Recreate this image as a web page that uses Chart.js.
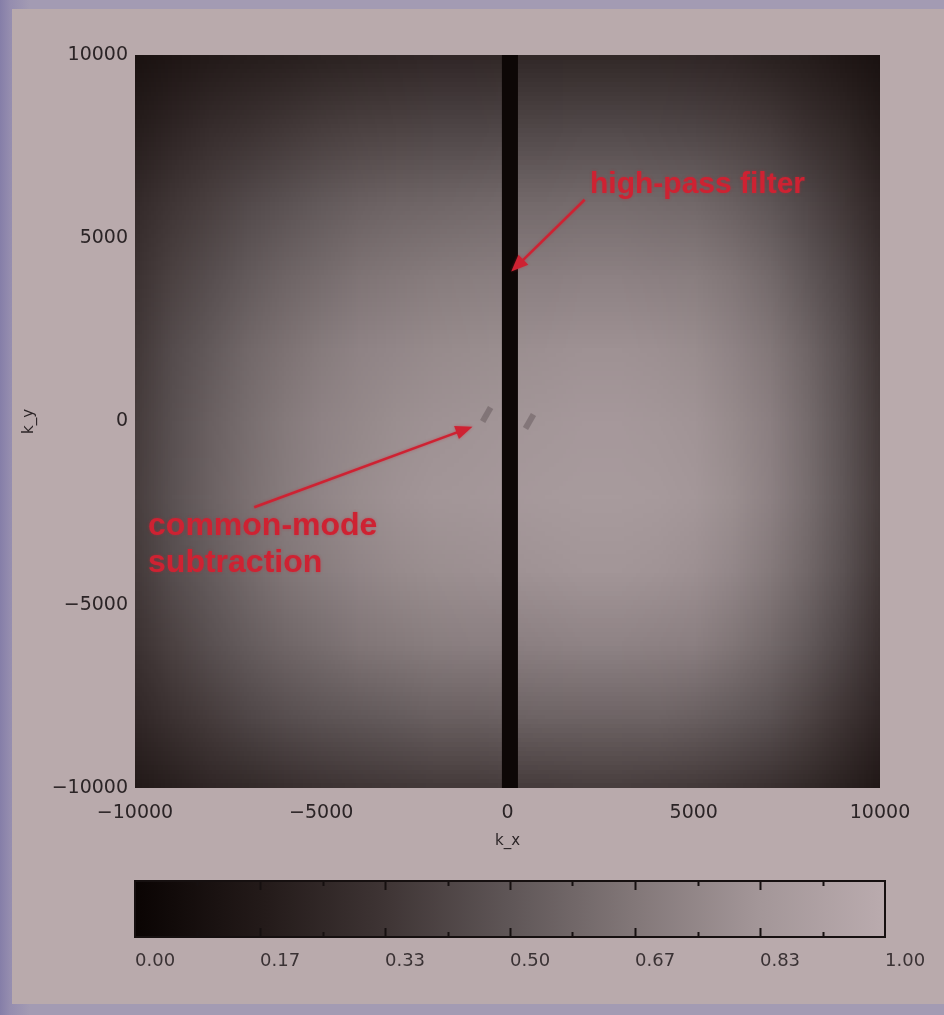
<!DOCTYPE html>
<html>
<head>
<meta charset="utf-8">
<script src="https://cdn.jsdelivr.net/npm/chart.js@4.4.0/dist/chart.umd.min.js"></script>
<style>
  html, body { margin: 0; padding: 0; width: 944px; height: 1015px; overflow: hidden; }
  body { position: relative; background: linear-gradient(to right, #857ea8 0px, #958daf 10px, #a39bb3 30px); }
  #panel { position: absolute; left: 12px; top: 9px; width: 932px; height: 995px; background: #b9aaac; }
  #map { position: absolute; left: 0; top: 0; width: 944px; height: 870px; }
  #cbar { position: absolute; left: 0; top: 860px; width: 944px; height: 120px; }
  canvas { filter: blur(0.7px); }
</style>
</head>
<body>
<div id="panel"></div>
<canvas id="map" width="944" height="870"></canvas>
<canvas id="cbar" width="944" height="120"></canvas>
<script>
// Sample grid of the 2D spectrum (normalised power) on k_x / k_y nodes
const kxNodes = [-10000, -9000, -8000, -7000, -6000, -5000, -4000, -3000, -2000, -1000, 0,
                 1000, 2000, 3000, 4000, 5000, 6000, 7000, 8000, 9000, 10000];
const kyNodes = [10000, 8000, 6000, 4000, 2000, 0, -2000, -4000, -6000, -8000, -10000];
const power = [
  [0.11,0.14,0.17,0.19,0.20,0.22,0.23,0.24,0.25,0.25,0.26,0.26,0.26,0.26,0.26,0.25,0.24,0.21,0.19,0.15,0.11],
  [0.19,0.24,0.29,0.32,0.35,0.38,0.40,0.41,0.42,0.42,0.43,0.43,0.44,0.44,0.43,0.42,0.40,0.37,0.31,0.26,0.18],
  [0.27,0.34,0.39,0.44,0.48,0.52,0.55,0.57,0.58,0.59,0.60,0.60,0.61,0.61,0.60,0.59,0.55,0.50,0.43,0.35,0.25],
  [0.32,0.40,0.46,0.52,0.57,0.61,0.65,0.67,0.69,0.70,0.71,0.71,0.72,0.72,0.71,0.70,0.66,0.60,0.51,0.42,0.30],
  [0.35,0.45,0.52,0.59,0.64,0.69,0.73,0.75,0.77,0.78,0.79,0.80,0.81,0.81,0.80,0.78,0.73,0.67,0.58,0.47,0.33],
  [0.37,0.47,0.55,0.62,0.68,0.73,0.76,0.79,0.81,0.82,0.83,0.84,0.85,0.85,0.84,0.82,0.77,0.71,0.61,0.49,0.35],
  [0.38,0.48,0.56,0.63,0.69,0.74,0.78,0.81,0.83,0.84,0.85,0.86,0.87,0.87,0.86,0.84,0.79,0.72,0.62,0.50,0.36],
  [0.36,0.46,0.53,0.60,0.66,0.70,0.74,0.77,0.79,0.80,0.81,0.82,0.83,0.83,0.82,0.80,0.75,0.68,0.59,0.48,0.34],
  [0.32,0.40,0.47,0.53,0.58,0.62,0.66,0.68,0.70,0.71,0.71,0.72,0.73,0.73,0.72,0.71,0.66,0.60,0.52,0.42,0.30],
  [0.25,0.32,0.37,0.42,0.46,0.49,0.51,0.53,0.55,0.55,0.56,0.57,0.57,0.57,0.57,0.55,0.52,0.48,0.41,0.33,0.24],
  [0.16,0.20,0.24,0.26,0.29,0.31,0.33,0.34,0.35,0.35,0.36,0.36,0.37,0.37,0.36,0.35,0.33,0.30,0.26,0.21,0.15]
];

// High-pass filter notch around k_x = 0
const hpfBand = [-150, 280];
const hpfLevel = 0.02;

// Residual dips left by the common-mode subtraction
const cmDips = [{ x: -560, y: 190 }, { x: 590, y: 0 }];

// Axis ticks
const axisTicks = [-10000, -5000, 0, 5000, 10000];

// Colour scale
const cmapLevels = [0, 0.17, 0.33, 0.5, 0.67, 0.83, 1];
const cmapColors = ['#0a0403', '#231a19', '#3e3434', '#5f5657', '#837879', '#a39698', '#baabae'];
const cbarTickValues = [0, 0.0833, 0.1667, 0.25, 0.3333, 0.4167, 0.5, 0.5833, 0.6667, 0.75, 0.8333, 0.9167, 1];
const cbarLabels = ['0.00', '0.17', '0.33', '0.50', '0.67', '0.83', '1.00'];

// Annotations (anchor / arrow ends in k_x, k_y)
const notes = [
  { lines: ['high-pass filter'], at: { x: 2215, y: 6235 }, size: 30,
    from: { x: 2070, y: 6050 }, to: { x: 100, y: 4090 } },
  { lines: ['common-mode', 'subtraction'], at: { x: -9650, y: -3100 }, size: 32,
    from: { x: -6800, y: -2340 }, to: { x: -940, y: -140 } }
];

const INK = '#2b2426';
const RED = 'rgb(206,34,50)';

function hexToRgb(h) {
  return [parseInt(h.slice(1, 3), 16), parseInt(h.slice(3, 5), 16), parseInt(h.slice(5, 7), 16)];
}
const cmapRgb = cmapColors.map(hexToRgb);
function cmap(v) {
  v = Math.max(0, Math.min(1, v));
  let k = 0;
  while (k < cmapLevels.length - 2 && v > cmapLevels[k + 1]) k++;
  const t = (v - cmapLevels[k]) / (cmapLevels[k + 1] - cmapLevels[k]);
  const a = cmapRgb[k], b = cmapRgb[k + 1];
  return [0, 1, 2].map(i => Math.round(a[i] + (b[i] - a[i]) * t));
}
function cmapCss(v) { const c = cmap(v); return `rgb(${c[0]},${c[1]},${c[2]})`; }

const fmt = v => (v < 0 ? '\u2212' + Math.abs(v) : String(v));

// Spectrum image: one texel per grid node, stretched over the node positions of the scales
const heatmapPlugin = {
  id: 'heatmap',
  beforeDatasetsDraw(chart) {
    const { ctx, chartArea: a, scales: { x, y } } = chart;
    const nx = kxNodes.length, ny = kyNodes.length;
    const off = document.createElement('canvas');
    off.width = nx; off.height = ny;
    const octx = off.getContext('2d');
    const img = octx.createImageData(nx, ny);
    for (let j = 0; j < ny; j++) {
      for (let i = 0; i < nx; i++) {
        const c = cmap(power[j][i]);
        const p = (j * nx + i) * 4;
        img.data[p] = c[0]; img.data[p + 1] = c[1]; img.data[p + 2] = c[2]; img.data[p + 3] = 255;
      }
    }
    octx.putImageData(img, 0, 0);
    const xa = x.getPixelForValue(kxNodes[0]), xb = x.getPixelForValue(kxNodes[nx - 1]);
    const ya = y.getPixelForValue(kyNodes[0]), yb = y.getPixelForValue(kyNodes[ny - 1]);
    const cw = (xb - xa) / (nx - 1), ch = (yb - ya) / (ny - 1);
    ctx.save();
    ctx.beginPath();
    ctx.rect(a.left, a.top, a.right - a.left, a.bottom - a.top);
    ctx.clip();
    ctx.imageSmoothingEnabled = true;
    ctx.imageSmoothingQuality = 'low';
    ctx.drawImage(off, xa - cw / 2, ya - ch / 2, cw * nx, ch * ny);
    // filter notch
    const s0 = x.getPixelForValue(hpfBand[0]), s1 = x.getPixelForValue(hpfBand[1]);
    ctx.fillStyle = cmapCss(hpfLevel);
    ctx.fillRect(s0, a.top, s1 - s0, a.bottom - a.top);
    ctx.restore();
  }
};

function arrow(ctx, x0, y0, x1, y1) {
  const ang = Math.atan2(y1 - y0, x1 - x0);
  const L = 17, W = 7;
  ctx.beginPath();
  ctx.moveTo(x0, y0);
  ctx.lineTo(x1 - Math.cos(ang) * (L - 2), y1 - Math.sin(ang) * (L - 2));
  ctx.stroke();
  ctx.beginPath();
  ctx.moveTo(x1, y1);
  ctx.lineTo(x1 - Math.cos(ang) * L - Math.sin(ang) * W, y1 - Math.sin(ang) * L + Math.cos(ang) * W);
  ctx.lineTo(x1 - Math.cos(ang) * L + Math.sin(ang) * W, y1 - Math.sin(ang) * L - Math.cos(ang) * W);
  ctx.closePath();
  ctx.fill();
}

const notesPlugin = {
  id: 'notes',
  afterDatasetsDraw(chart) {
    const { ctx, scales: { x, y } } = chart;
    ctx.save();
    ctx.fillStyle = RED;
    ctx.strokeStyle = RED;
    ctx.lineWidth = 2.5;
    ctx.shadowColor = 'rgba(206,34,50,0.45)';
    ctx.shadowBlur = 3;
    notes.forEach(n => {
      arrow(ctx, x.getPixelForValue(n.from.x), y.getPixelForValue(n.from.y),
                 x.getPixelForValue(n.to.x), y.getPixelForValue(n.to.y));
      ctx.font = `bold ${n.size}px "Liberation Sans", Arial, sans-serif`;
      ctx.textAlign = 'left';
      ctx.textBaseline = 'alphabetic';
      const px = x.getPixelForValue(n.at.x), py = y.getPixelForValue(n.at.y);
      n.lines.forEach((t, k) => ctx.fillText(t, px, py + k * 37));
    });
    ctx.restore();
  }
};

const tickFont = { family: '"DejaVu Sans", sans-serif', size: 19 };

new Chart(document.getElementById('map'), {
  type: 'scatter',
  data: {
    datasets: [{
      data: cmDips,
      pointRadius: 8,
      pointStyle: 'line',
      rotation: -60,
      borderColor: 'rgba(66,52,56,0.32)',
      borderWidth: 6,
      backgroundColor: 'rgba(66,52,56,0.32)'
    }]
  },
  options: {
    responsive: false,
    animation: false,
    events: [],
    layout: { padding: { left: 0, top: 55, right: 64, bottom: 0 } },
    plugins: { legend: { display: false }, tooltip: { enabled: false } },
    scales: {
      x: {
        type: 'linear', min: -10000, max: 10000, position: 'bottom',
        border: { display: false },
        grid: { display: false, drawTicks: false },
        afterBuildTicks: s => { s.ticks = axisTicks.map(v => ({ value: v })); },
        afterFit: s => { s.height = 82; },
        ticks: { padding: 14, color: INK, font: tickFont, maxRotation: 0, autoSkip: false, callback: fmt },
        title: { display: true, text: 'k_x', color: INK, font: { family: '"DejaVu Sans", sans-serif', size: 15 },
                 padding: { top: 0, bottom: 20 } }
      },
      y: {
        type: 'linear', min: -10000, max: 10000, position: 'left',
        border: { display: false },
        grid: { display: false, drawTicks: false },
        afterBuildTicks: s => { s.ticks = axisTicks.map(v => ({ value: v })); },
        afterFit: s => { s.width = 135; },
        ticks: { padding: 7, color: INK, font: tickFont, autoSkip: false, callback: fmt },
        title: { display: true, text: 'k_y', color: INK, font: { family: '"DejaVu Sans", sans-serif', size: 15 },
                 padding: { top: 20, bottom: 0 } }
      }
    }
  },
  plugins: [heatmapPlugin, notesPlugin]
});

// Colour bar
function cbarFill(ctx) {
  const chart = ctx.chart;
  if (!chart.chartArea || !chart.scales.x) return cmapColors[3];
  const x0 = chart.scales.x.getPixelForValue(0), x1 = chart.scales.x.getPixelForValue(1);
  const g = chart.ctx.createLinearGradient(x0, 0, x1, 0);
  cmapLevels.forEach((l, i) => g.addColorStop(l, cmapColors[i]));
  return g;
}

const cbarFrame = {
  id: 'cbarFrame',
  afterDatasetsDraw(chart) {
    const { ctx, chartArea: a, scales: { x } } = chart;
    ctx.save();
    ctx.strokeStyle = '#161010';
    ctx.lineWidth = 2;
    cbarTickValues.forEach((v, i) => {
      if (i === 0 || i === cbarTickValues.length - 1) return;
      const px = Math.round(x.getPixelForValue(v)) + 0.5;
      const len = i % 2 === 0 ? 9 : 5;
      ctx.beginPath();
      ctx.moveTo(px, a.top); ctx.lineTo(px, a.top + len);
      ctx.moveTo(px, a.bottom); ctx.lineTo(px, a.bottom - len);
      ctx.stroke();
    });
    ctx.strokeRect(a.left, a.top, a.right - a.left, a.bottom - a.top);
    ctx.restore();
  }
};

new Chart(document.getElementById('cbar'), {
  type: 'bar',
  data: {
    labels: [''],
    datasets: [{
      data: [[0, 1]],
      backgroundColor: cbarFill,
      borderWidth: 0,
      barPercentage: 1,
      categoryPercentage: 1
    }]
  },
  options: {
    indexAxis: 'y',
    responsive: false,
    animation: false,
    events: [],
    layout: { padding: { left: 135, right: 59, top: 21, bottom: 0 } },
    plugins: { legend: { display: false }, tooltip: { enabled: false } },
    scales: {
      x: {
        type: 'linear', min: 0, max: 1, position: 'bottom',
        border: { display: false },
        grid: { display: false, drawTicks: false },
        afterBuildTicks: s => { s.ticks = cbarTickValues.map(v => ({ value: v })); },
        afterFit: s => { s.height = 43; },
        ticks: {
          align: 'start', padding: 14, color: '#3a3234', font: { family: '"DejaVu Sans", sans-serif', size: 18 },
          maxRotation: 0, autoSkip: false,
          callback: (v, i) => (i % 2 === 0 ? cbarLabels[i / 2] : '')
        }
      },
      y: { display: false }
    }
  },
  plugins: [cbarFrame]
});
</script>
</body>
</html>
